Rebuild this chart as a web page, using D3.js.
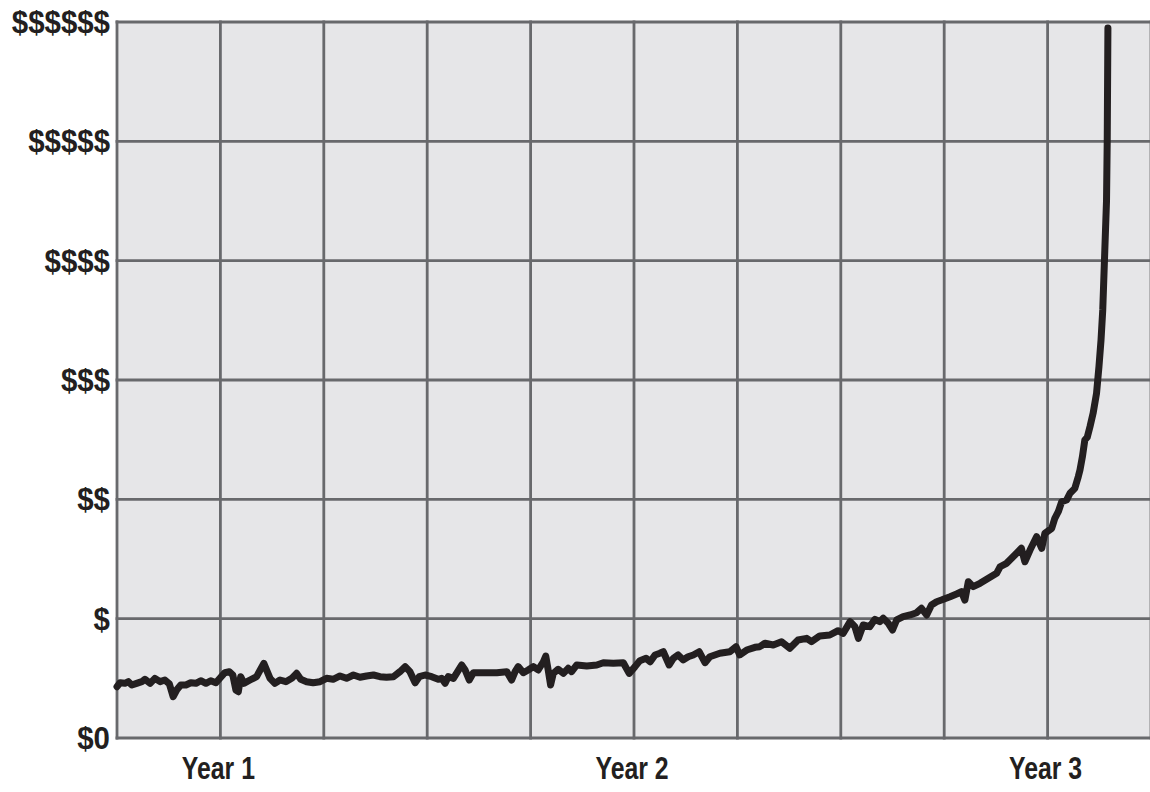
<!DOCTYPE html>
<html>
<head>
<meta charset="utf-8">
<script src="https://cdn.jsdelivr.net/npm/d3@7"></script>
<style>
  html, body { margin: 0; padding: 0; background: #ffffff; }
  svg { display: block; }
  .lbl { font-family: "Liberation Sans Narrow", "Arial Narrow", "Liberation Sans", Arial, sans-serif; font-weight: bold; fill: #231f20; }
</style>
</head>
<body>
<svg id="chart" width="1150" height="792"></svg>
<script>
// ---- data (months since start, relative value in "$" units) ----
const months = [9.00,9.09,9.23,9.33,9.43,9.57,9.72,9.81,9.96,10.10,10.25,10.39,10.52,10.63,10.73,10.85,11.00,11.14,11.29,11.43,11.58,11.72,11.87,12.01,12.13,12.26,12.36,12.45,12.52,12.59,12.68,12.86,13.05,13.26,13.44,13.58,13.73,13.90,14.07,14.21,14.33,14.50,14.69,14.89,15.08,15.27,15.47,15.66,15.86,16.05,16.24,16.44,16.63,16.82,17.02,17.21,17.36,17.50,17.65,17.77,17.94,18.13,18.32,18.42,18.52,18.61,18.76,18.85,19.00,19.10,19.22,19.34,19.63,20.02,20.31,20.45,20.55,20.64,20.79,20.93,21.08,21.22,21.37,21.44,21.51,21.58,21.66,21.80,21.95,22.09,22.19,22.34,22.63,22.92,23.11,23.40,23.69,23.86,24.03,24.17,24.35,24.47,24.61,24.75,24.85,25.02,25.14,25.28,25.43,25.57,25.72,25.89,26.06,26.20,26.49,26.78,26.96,27.07,27.27,27.51,27.65,27.80,28.04,28.28,28.52,28.76,29.01,29.15,29.39,29.68,29.92,30.07,30.27,30.41,30.51,30.65,30.84,30.99,31.13,31.23,31.38,31.50,31.62,31.81,32.01,32.20,32.34,32.49,32.63,32.78,32.92,33.17,33.36,33.50,33.60,33.70,33.84,34.04,34.28,34.52,34.62,34.81,35.05,35.24,35.34,35.49,35.68,35.83,35.92,36.12,36.21,36.31,36.41,36.55,36.65,36.79,36.89,36.94,37.01,37.08,37.15,37.23,37.32,37.42,37.49,37.55,37.60,37.63,37.66,37.71,37.73,37.75];
const values = [0.430,0.463,0.458,0.472,0.444,0.458,0.472,0.492,0.458,0.500,0.472,0.486,0.453,0.346,0.402,0.444,0.444,0.463,0.458,0.480,0.458,0.480,0.463,0.509,0.547,0.556,0.528,0.402,0.388,0.514,0.458,0.486,0.514,0.626,0.500,0.458,0.486,0.472,0.500,0.542,0.492,0.472,0.463,0.472,0.500,0.492,0.520,0.500,0.528,0.509,0.520,0.528,0.514,0.509,0.514,0.556,0.598,0.556,0.463,0.514,0.528,0.514,0.492,0.500,0.458,0.514,0.500,0.542,0.612,0.570,0.486,0.547,0.547,0.547,0.556,0.486,0.556,0.598,0.547,0.570,0.598,0.570,0.639,0.687,0.570,0.444,0.542,0.576,0.542,0.584,0.556,0.612,0.603,0.612,0.631,0.626,0.631,0.542,0.598,0.648,0.668,0.639,0.696,0.710,0.723,0.612,0.668,0.696,0.654,0.681,0.696,0.723,0.631,0.681,0.710,0.723,0.765,0.696,0.737,0.760,0.765,0.794,0.779,0.807,0.752,0.821,0.835,0.807,0.855,0.863,0.899,0.877,0.975,0.933,0.835,0.947,0.933,0.995,0.975,1.003,0.961,0.905,0.989,1.017,1.031,1.050,1.087,1.031,1.115,1.142,1.156,1.184,1.207,1.226,1.156,1.310,1.268,1.296,1.338,1.380,1.435,1.464,1.534,1.590,1.477,1.575,1.687,1.590,1.715,1.757,1.841,1.896,1.980,1.994,2.051,2.092,2.190,2.246,2.357,2.497,2.520,2.609,2.721,2.889,3.112,3.335,3.587,3.838,4.089,4.508,5.011,5.950];

const gridMonths = [9,12,15,18,21,24,27,30,33,36,39];
const yTickValues = [0,1,2,3,4,5,6];
const yTickLabels = ["$0","$","$$","$$$","$$$$","$$$$$","$$$$$$"];
const xTickValues = [12,24,36];
const xTickLabels = ["Year 1","Year 2","Year 3"];

// ---- layout ----
const svg = d3.select("#chart");
const plotLeft = 117, plotRight = 1151, plotTop = 22, plotBottom = 738;

const x = d3.scaleLinear().domain([9, 39]).range([plotLeft, plotRight]);
const y = d3.scaleLinear().domain([0, 6]).range([plotBottom, plotTop]);

// plot background
svg.append("rect")
  .attr("x", x(9)).attr("y", y(6))
  .attr("width", x(39) - x(9)).attr("height", y(0) - y(6))
  .attr("fill", "#e6e6e8");

// grid
const grid = svg.append("g").attr("stroke", "#68696c").attr("stroke-width", 2.8);
grid.selectAll("line.v").data(gridMonths).join("line")
  .attr("class", "v")
  .attr("x1", d => x(d)).attr("x2", d => x(d))
  .attr("y1", y(6) - 1.4).attr("y2", y(0) + 1.4);
grid.selectAll("line.h").data(yTickValues).join("line")
  .attr("class", "h")
  .attr("x1", x(9) - 1.4).attr("x2", x(39))
  .attr("y1", d => y(d)).attr("y2", d => y(d));

// y labels (slightly condensed)
svg.append("g").selectAll("text").data(yTickValues).join("text")
  .attr("class", "lbl")
  .attr("transform", d => `translate(${plotLeft - 7},${y(d)}) scale(0.95,1)`)
  .attr("dy", "0.36em")
  .attr("text-anchor", "end")
  .attr("font-size", 31)
  .text((d, i) => yTickLabels[i]);

// x labels (condensed)
svg.append("g").selectAll("text").data(xTickValues).join("text")
  .attr("class", "lbl")
  .attr("transform", d => `translate(${x(d) - 2},779) scale(0.8,1)`)
  .attr("text-anchor", "middle")
  .attr("font-size", 31)
  .text((d, i) => xTickLabels[i]);

// line
const pts = months.map((m, i) => [m, values[i]]);
const line = d3.line().x(d => x(d[0])).y(d => y(d[1]));
svg.append("path")
  .datum(pts)
  .attr("d", line)
  .attr("fill", "none")
  .attr("stroke", "#231f20")
  .attr("stroke-width", 7)
  .attr("stroke-linejoin", "round")
  .attr("stroke-linecap", "round");
</script>
</body>
</html>
